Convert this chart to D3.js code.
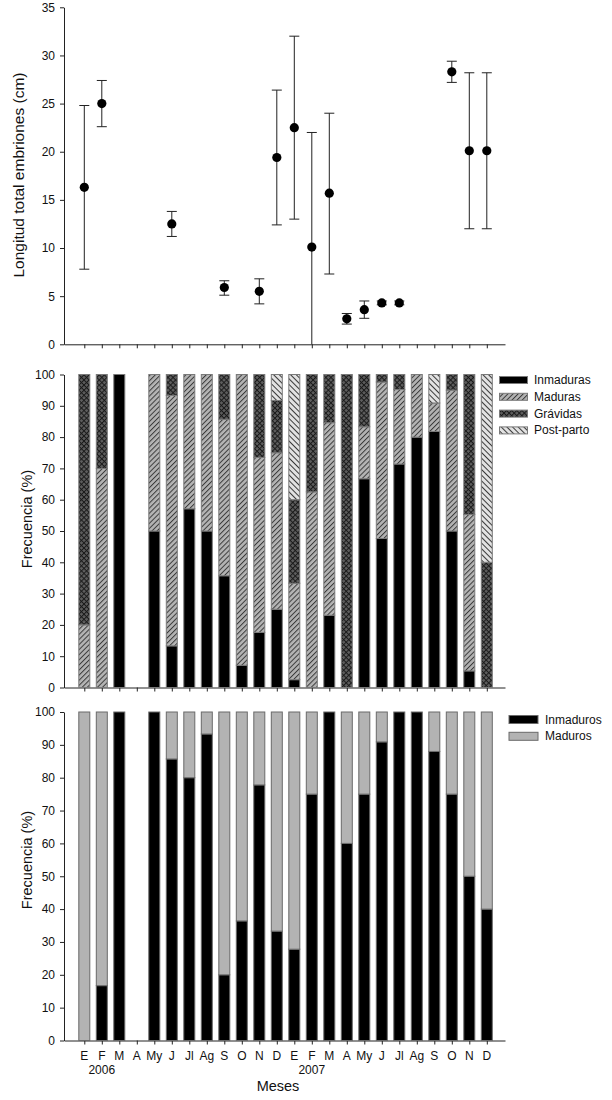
<!DOCTYPE html>
<html>
<head>
<meta charset="utf-8">
<script src="https://cdn.jsdelivr.net/npm/d3@7"></script>
<style>
  html, body { margin: 0; padding: 0; background: #fff; }
  svg { display: block; font-family: "Liberation Sans", Arial, sans-serif; }
</style>
</head>
<body>
<svg id="chart" width="612" height="1100"></svg>
<script>
// ---------------- DATA ----------------
const months = ["E","F","M","A","My","J","Jl","Ag","S","O","N","D",
                "E","F","M","A","My","J","Jl","Ag","S","O","N","D"];
const yearLabels = ["2006", "2007"];
const yearMonthIndex = [1, 13];

// Panel A: embryo total length (mean and error range)
const lenMonth = [0, 1, 5, 8, 10, 11, 12, 13, 14, 15, 16, 17, 18, 21, 22, 23];
const lenMean  = [16.3, 25.0, 12.5, 5.9, 5.5, 19.4, 22.5, 10.1, 15.7, 2.65, 3.6, 4.3, 4.3, 28.3, 20.1, 20.1];
const lenLow   = [7.8, 22.6, 11.2, 5.1, 4.2, 12.4, 13.0, -1.8, 7.3, 2.1, 2.7, 4.1, 4.1, 27.2, 12.0, 12.0];
const lenHigh  = [24.8, 27.4, 13.8, 6.6, 6.8, 26.4, 32.0, 22.0, 24.0, 3.2, 4.5, 4.5, 4.5, 29.4, 28.2, 28.2];
const lenTicks = [0, 5, 10, 15, 20, 25, 30, 35];

// Panel B: females maturity stages (%)
const femSeries = ["Inmaduras", "Maduras", "Grávidas", "Post-parto"];
const inmaduras = [0, 0, 100, null, 50, 13.3, 57.1, 50, 35.7, 7.1, 17.6, 25, 2.5, 0, 23.1, 0, 66.7, 47.6, 71.4, 80, 81.8, 50, 5.3, 0];
const maduras   = [20, 70, 0, null, 50, 80, 42.9, 50, 50, 92.9, 55.9, 50, 30.8, 62.5, 61.5, 0, 16.6, 50, 23.8, 20, 9.1, 45, 50, 0];
const gravidas  = [80, 30, 0, null, 0, 6.7, 0, 0, 14.3, 0, 26.5, 16.7, 26.7, 37.5, 15.4, 100, 16.7, 2.4, 4.8, 0, 0, 5, 44.7, 40];
const postparto = [0, 0, 0, null, 0, 0, 0, 0, 0, 0, 0, 8.3, 40, 0, 0, 0, 0, 0, 0, 0, 9.1, 0, 0, 60];

// Panel C: males maturity (%)
const maleSeries = ["Inmaduros", "Maduros"];
const inmaduros = [0, 16.7, 100, null, 100, 85.7, 80, 93.3, 20, 36.4, 77.8, 33.3, 27.8, 75, 100, 60, 75, 90.9, 100, 100, 88, 75, 50, 40];
const maduros   = [100, 83.3, 0, null, 0, 14.3, 20, 6.7, 80, 63.6, 22.2, 66.7, 72.2, 25, 0, 40, 25, 9.1, 0, 0, 12, 25, 50, 60];
const pctTicks = [0, 10, 20, 30, 40, 50, 60, 70, 80, 90, 100];

// ---------------- LAYOUT ----------------
const svg = d3.select("#chart");
const axisColor = "#222";
const left = 64, right = 505;
const x = d3.scaleLinear().domain([-1.16, 24.04]).range([left, right]);
const barW = 11;

// patterns
const defs = svg.append("defs");
function hatch(id, bg, size, angle, lineColor, cross) {
  const p = defs.append("pattern").attr("id", id)
    .attr("patternUnits", "userSpaceOnUse")
    .attr("width", size).attr("height", size)
    .attr("patternTransform", `rotate(${angle})`);
  p.append("rect").attr("width", size).attr("height", size).attr("fill", bg);
  p.append("line").attr("x1", 0.5).attr("y1", 0).attr("x2", 0.5).attr("y2", size)
    .attr("stroke", lineColor).attr("stroke-width", 1);
  if (cross) {
    p.append("line").attr("x1", 0).attr("y1", 0.5).attr("x2", size).attr("y2", 0.5)
      .attr("stroke", lineColor).attr("stroke-width", 1);
  }
}
hatch("pMad", "#b4b4b4", 3.6, 45, "#3a3a3a", false);
hatch("pGrav", "#5e5e5e", 3.6, 45, "#1a1a1a", true);
hatch("pPost", "#e2e2e2", 4, -45, "#3a3a3a", false);

function styleAxis(g) {
  g.selectAll(".domain").attr("stroke", axisColor).attr("stroke-width", 1);
  g.selectAll(".tick line").attr("stroke", axisColor).attr("stroke-width", 1);
  g.selectAll(".tick text").attr("fill", "#111").style("font-size", "12px")
    .style("font-family", "'Liberation Sans', Arial, sans-serif");
}

function drawAxes(y, ticks, yBottom, title, titleX, titleY, titleSize) {
  const gx = svg.append("g").attr("transform", `translate(0,${yBottom})`)
    .call(d3.axisBottom(x).tickValues(d3.range(months.length)).tickSize(4).tickSizeOuter(0).tickFormat(""));
  styleAxis(gx);
  const gy = svg.append("g").attr("transform", `translate(${left},0)`)
    .call(d3.axisLeft(y).tickValues(ticks).tickSize(4).tickSizeOuter(0).tickPadding(5).tickFormat(d3.format("d")));
  styleAxis(gy);
  svg.append("text")
    .attr("transform", `translate(${titleX},${titleY}) rotate(-90)`)
    .attr("text-anchor", "middle").attr("dominant-baseline", "central")
    .style("font-size", titleSize + "px").attr("fill", "#111").text(title);
  return gx;
}

// ---------------- PANEL A ----------------
const yA = d3.scaleLinear().domain([0, 35]).range([344.3, 7.3]).clamp(true);
drawAxes(yA, lenTicks, 344.3, "Longitud total embriones (cm)", 18, 175, 15.5);

const lenData = lenMonth.map((m, i) => ({ m, mean: lenMean[i], lo: lenLow[i], hi: lenHigh[i] }));
const gA = svg.append("g");
const capW = 5;
gA.selectAll("line.err").data(lenData).join("line").attr("class", "err")
  .attr("x1", d => x(d.m)).attr("x2", d => x(d.m))
  .attr("y1", d => yA(d.lo)).attr("y2", d => yA(d.hi))
  .attr("stroke", "#222").attr("stroke-width", 1);
gA.selectAll("line.capHi").data(lenData).join("line").attr("class", "capHi")
  .attr("x1", d => x(d.m) - capW).attr("x2", d => x(d.m) + capW)
  .attr("y1", d => yA(d.hi)).attr("y2", d => yA(d.hi))
  .attr("stroke", "#222").attr("stroke-width", 1);
gA.selectAll("line.capLo").data(lenData.filter(d => d.lo >= 0)).join("line").attr("class", "capLo")
  .attr("x1", d => x(d.m) - capW).attr("x2", d => x(d.m) + capW)
  .attr("y1", d => yA(d.lo)).attr("y2", d => yA(d.lo))
  .attr("stroke", "#222").attr("stroke-width", 1);
gA.selectAll("circle").data(lenData).join("circle")
  .attr("cx", d => x(d.m)).attr("cy", d => yA(d.mean)).attr("r", 4.6)
  .attr("fill", "#000");

// ---------------- PANEL B ----------------
const yB = d3.scaleLinear().domain([0, 100]).range([687.5, 374.5]);
drawAxes(yB, pctTicks, 687.5, "Frecuencia (%)", 27, 519, 14.5);

const femTable = months.map((m, i) => ({
  i,
  "Inmaduras": inmaduras[i] || 0,
  "Maduras": maduras[i] || 0,
  "Grávidas": gravidas[i] || 0,
  "Post-parto": postparto[i] || 0,
  has: inmaduras[i] !== null
}));
const femFill = { "Inmaduras": "#000", "Maduras": "url(#pMad)", "Grávidas": "url(#pGrav)", "Post-parto": "url(#pPost)" };
const femStack = d3.stack().keys(femSeries)(femTable.filter(d => d.has));
svg.append("g").selectAll("g").data(femStack).join("g")
  .attr("fill", s => femFill[s.key])
  .selectAll("rect").data(s => s.filter(d => d[1] - d[0] > 0)).join("rect")
  .attr("x", d => x(d.data.i) - barW / 2).attr("width", barW)
  .attr("y", d => yB(d[1])).attr("height", d => yB(d[0]) - yB(d[1]))
  .attr("stroke", "#7a7a7a").attr("stroke-width", 1);

// legend B
const legB = svg.append("g");
femSeries.forEach((k, j) => {
  const cy = 380 + j * 16.8;
  legB.append("rect").attr("x", 499.5).attr("y", cy - 3.5).attr("width", 28).attr("height", 7)
    .attr("fill", femFill[k]).attr("stroke", "#7a7a7a").attr("stroke-width", 1);
  legB.append("text").attr("x", 534).attr("y", cy).attr("dominant-baseline", "central")
    .style("font-size", "12px").attr("fill", "#111").text(k);
});

// ---------------- PANEL C ----------------
const yC = d3.scaleLinear().domain([0, 100]).range([1040.5, 712]);
drawAxes(yC, pctTicks, 1040.5, "Frecuencia (%)", 27, 860, 14.5);

const maleTable = months.map((m, i) => ({
  i,
  "Inmaduros": inmaduros[i] || 0,
  "Maduros": maduros[i] || 0,
  has: inmaduros[i] !== null
}));
const maleFill = { "Inmaduros": "#000", "Maduros": "#b3b3b3" };
const maleStack = d3.stack().keys(maleSeries)(maleTable.filter(d => d.has));
svg.append("g").selectAll("g").data(maleStack).join("g")
  .attr("fill", s => maleFill[s.key])
  .selectAll("rect").data(s => s.filter(d => d[1] - d[0] > 0)).join("rect")
  .attr("x", d => x(d.data.i) - barW / 2).attr("width", barW)
  .attr("y", d => yC(d[1])).attr("height", d => yC(d[0]) - yC(d[1]))
  .attr("stroke", "#6a6a6a").attr("stroke-width", 1);

// month labels
svg.append("g").selectAll("text").data(months).join("text")
  .attr("x", (d, i) => x(i)).attr("y", 1060)
  .attr("text-anchor", "middle").style("font-size", "12px").attr("fill", "#111").text(d => d);
svg.append("g").selectAll("text").data(yearLabels).join("text")
  .attr("x", (d, i) => x(yearMonthIndex[i])).attr("y", 1074)
  .attr("text-anchor", "middle").style("font-size", "12px").attr("fill", "#111").text(d => d);
svg.append("text").attr("x", 278).attr("y", 1091).attr("text-anchor", "middle")
  .style("font-size", "14.5px").attr("fill", "#111").text("Meses");

// legend C
const legC = svg.append("g");
maleSeries.forEach((k, j) => {
  const cy = 719.5 + j * 16.8;
  legC.append("rect").attr("x", 509).attr("y", cy - 4).attr("width", 29).attr("height", 8)
    .attr("fill", maleFill[k]).attr("stroke", "#6a6a6a").attr("stroke-width", 1);
  legC.append("text").attr("x", 545).attr("y", cy).attr("dominant-baseline", "central")
    .style("font-size", "12px").attr("fill", "#111").text(k);
});
</script>
</body>
</html>
